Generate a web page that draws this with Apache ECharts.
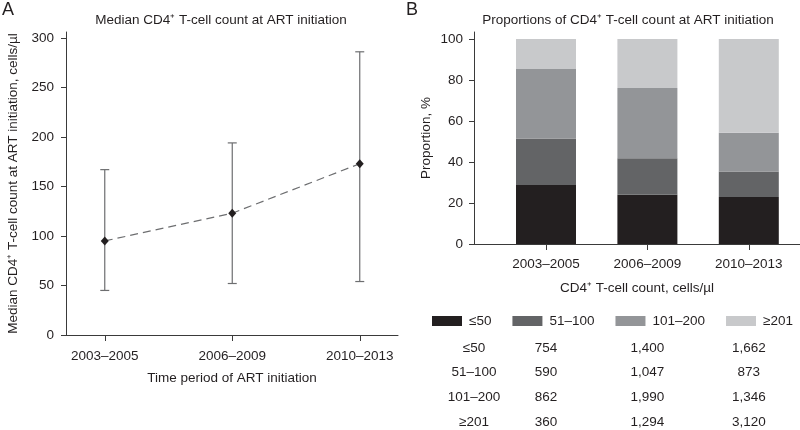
<!DOCTYPE html>
<html>
<head>
<meta charset="utf-8">
<script src="https://cdn.jsdelivr.net/npm/echarts@6/dist/echarts.min.js"></script>
<style>html,body{margin:0;padding:0;background:#fff}#c{width:800px;height:430px}</style>
</head>
<body>
<div id="c"></div>
<script>
// ---- data ----
var periods = ['2003–2005', '2006–2009', '2010–2013'];
var medianCD4 = [95, 123, 173];
var iqrLow = [45, 52, 54];
var iqrHigh = [167, 194, 286];
var groupNames = ['≤50', '51–100', '101–200', '≥201'];
var pctLE50 = [28.8, 24.0, 22.9];
var pct51to100 = [22.6, 17.8, 12.4];
var pct101to200 = [34.0, 34.3, 19.0];
var pctGE201 = [14.6, 23.9, 45.7];
var countLE50 = ['754', '1,400', '1,662'];
var count51to100 = ['590', '1,047', '873'];
var count101to200 = ['862', '1,990', '1,346'];
var countGE201 = ['360', '1,294', '3,120'];
var yTicksA = [0, 50, 100, 150, 200, 250, 300];
var yTicksB = [0, 20, 40, 60, 80, 100];

var FONT = '"Liberation Sans", Arial, Helvetica, sans-serif';
var FS = 13.5;
var TXT = '#231f20';
var AX = '#3a3a3a';
var barColors = ['#231f20', '#636466', '#939598', '#c8c9cb'];
var pctSeries = [pctLE50, pct51to100, pct101to200, pctGE201];
var countRows = [countLE50, count51to100, count101to200, countGE201];
var idx = periods.map(function (p, i) { return i; });

var chart = echarts.init(document.getElementById('c'), null, { renderer: 'canvas' });

function xAxisCommon(gi, min, max, nameText, nameGap, labelMargin) {
  return {
    type: 'value', gridIndex: gi, min: min, max: max,
    splitLine: { show: false },
    axisLine: { onZero: false, lineStyle: { color: AX, width: 1 } },
    axisTick: { show: true, length: 6, customValues: idx, lineStyle: { color: AX } },
    axisLabel: { customValues: idx, margin: labelMargin, color: TXT, fontSize: FS, fontFamily: FONT,
      formatter: function (v) { return periods[Math.round(v)] || ''; } },
    name: nameText, nameLocation: 'middle', nameGap: nameGap,
    nameTextStyle: { color: TXT, fontSize: FS, fontFamily: FONT }
  };
}
function yAxisCommon(gi, max, ticks, nameText, nameGap, labelMargin) {
  return {
    type: 'value', gridIndex: gi, min: 0, max: max,
    splitLine: { show: false },
    axisLine: { show: true, onZero: false, lineStyle: { color: AX, width: 1 } },
    axisTick: { show: true, length: 5, customValues: ticks, lineStyle: { color: AX } },
    axisLabel: { customValues: ticks, margin: labelMargin, color: TXT, fontSize: FS, fontFamily: FONT },
    name: nameText, nameLocation: 'middle', nameGap: nameGap,
    nameTextStyle: { color: TXT, fontSize: FS, fontFamily: FONT }
  };
}

var series = [];
// error bars (panel A)
series.push({
  type: 'custom', xAxisIndex: 0, yAxisIndex: 0, z: 2,
  data: idx.map(function (i) { return [i, iqrLow[i], iqrHigh[i]]; }),
  renderItem: function (params, api) {
    var lo = api.coord([api.value(0), api.value(1)]);
    var hi = api.coord([api.value(0), api.value(2)]);
    var cap = 4.5;
    var st = { stroke: '#6d6e70', lineWidth: 1.2 };
    return { type: 'group', children: [
      { type: 'line', shape: { x1: lo[0], y1: lo[1], x2: hi[0], y2: hi[1] }, style: st },
      { type: 'line', shape: { x1: lo[0] - cap, y1: lo[1], x2: lo[0] + cap, y2: lo[1] }, style: st },
      { type: 'line', shape: { x1: hi[0] - cap, y1: hi[1], x2: hi[0] + cap, y2: hi[1] }, style: st }
    ] };
  }
});
// median line
series.push({
  type: 'line', xAxisIndex: 0, yAxisIndex: 0, z: 3,
  data: idx.map(function (i) { return [i, medianCD4[i]]; }),
  symbol: 'diamond', symbolSize: [8, 9],
  itemStyle: { color: '#231f20' },
  lineStyle: { color: '#6d6e70', width: 1.2, type: [8, 5] }
});
// stacked bars (panel B) on a hidden category axis aligned with the visible one
groupNames.forEach(function (g, k) {
  series.push({
    type: 'bar', name: g, xAxisIndex: 2, yAxisIndex: 2, stack: 'p', z: 1,
    barWidth: 60, itemStyle: { color: barColors[k] },
    data: pctSeries[k]
  });
});

var xB = xAxisCommon(1, -0.71, 2.505, 'CD4⁺ T-cell count, cells/µl', 37, 13);
xB.z = 5;
var yB = yAxisCommon(1, 103.4, yTicksB, 'Proportion, %', 41, 11);
yB.z = 5;

chart.setOption({
  animation: false,
  backgroundColor: '#fff',
  textStyle: { fontFamily: FONT },
  grid: [
    { left: 66, right: 402, top: 32, bottom: 95 },
    { left: 474, right: 0, top: 32, bottom: 186 },
    { left: 495.3, right: 0.5, top: 32, bottom: 186 }
  ],
  xAxis: [
    xAxisCommon(0, -0.304, 2.3, 'Time period of ART initiation', 36, 14),
    xB,
    { type: 'category', gridIndex: 2, data: periods, boundaryGap: true, show: false }
  ],
  yAxis: [
    yAxisCommon(0, 306, yTicksA, 'Median CD4⁺ T-cell count at ART initiation, cells/µl', 46, 12),
    yB,
    { type: 'value', gridIndex: 2, min: 0, max: 103.4, show: false, splitLine: { show: false } }
  ],
  legend: {
    data: groupNames, left: 427, top: 309, itemWidth: 30, itemHeight: 10, itemGap: 21,
    icon: 'rect', selectedMode: false,
    textStyle: { color: TXT, fontSize: FS, fontFamily: FONT, padding: [0, 0, 0, 2] }
  },
  series: series
});

// titles, panel letters and count table
var g = [
  { type: 'text', left: 2, top: 1, style: { text: 'A', fontSize: 18, fontFamily: FONT, fill: TXT } },
  { type: 'text', left: 406, top: 1, style: { text: 'B', fontSize: 18, fontFamily: FONT, fill: TXT } },
  { type: 'text', x: 221, y: 20, style: { text: 'Median CD4⁺ T-cell count at ART initiation', fontSize: FS, fontFamily: FONT, fill: TXT, align: 'center', verticalAlign: 'middle' } },
  { type: 'text', x: 628, y: 20, style: { text: 'Proportions of CD4⁺ T-cell count at ART initiation', fontSize: FS, fontFamily: FONT, fill: TXT, align: 'center', verticalAlign: 'middle' } }
];
var rowY = [348, 372, 397, 422];
var labelX = chart.convertToPixel({ xAxisIndex: 1 }, -0.71);
groupNames.forEach(function (name, r) {
  g.push({ type: 'text', x: labelX, y: rowY[r], style: { text: name, fontSize: FS, fontFamily: FONT, fill: TXT, align: 'center', verticalAlign: 'middle' } });
  idx.forEach(function (i) {
    var x = chart.convertToPixel({ xAxisIndex: 2 }, i);
    g.push({ type: 'text', x: x, y: rowY[r], style: { text: countRows[r][i], fontSize: FS, fontFamily: FONT, fill: TXT, align: 'center', verticalAlign: 'middle' } });
  });
});
chart.setOption({ graphic: g });
</script>
</body>
</html>
